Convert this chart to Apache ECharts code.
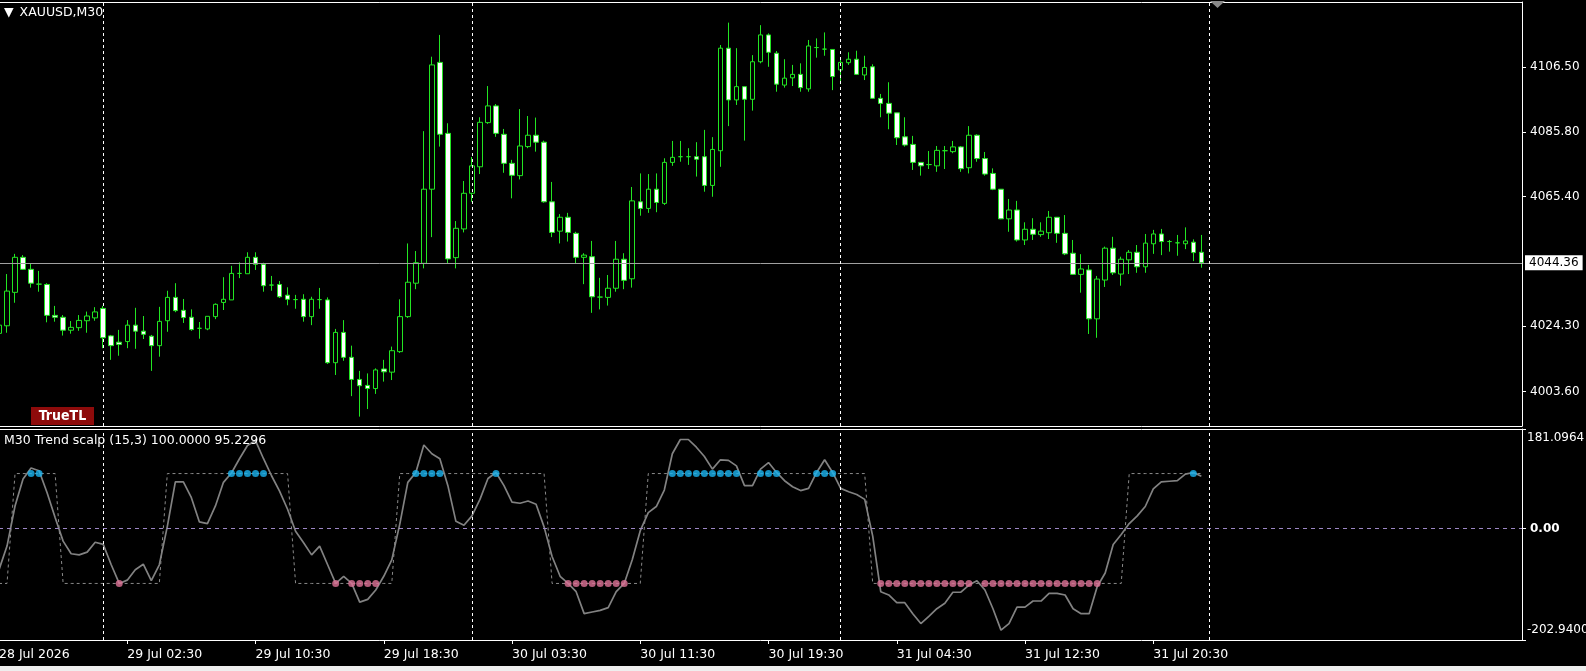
<!DOCTYPE html>
<html><head><meta charset="utf-8">
<script src="https://cdn.jsdelivr.net/npm/echarts@6/dist/echarts.min.js"></script>
<style>html,body{margin:0;padding:0;background:#000;}#c{width:1586px;height:671px;}</style>
</head><body><div id="c"></div>
<script>
// ---- price data (M30 candles, index 0..150) ----
const openP = [4022.0,4024.4,4035.0,4046.1,4042.3,4037.6,4037.5,4027.7,4027.1,4023.0,4023.8,4026.0,4026.9,4029.9,4021.2,4019.2,4019.4,4024.6,4022.7,4021.1,
4018.1,4026.0,4033.4,4029.3,4027.1,4023.6,4023.4,4027.3,4031.8,4032.6,4041.0,4040.9,4046.1,4043.9,4037.3,4037.5,4034.1,4032.7,4032.8,4027.3,
4032.7,4032.6,4012.7,4022.3,4014.4,4007.4,4005.5,4004.5,4010.7,4009.7,4016.2,4027.3,4037.9,4044.2,4067.7,4107.9,4085.4,4046.0,4055.1,4066.4,
4074.8,4088.8,4094.1,4085.1,4075.9,4072.0,4081.2,4084.8,4082.6,4063.7,4054.4,4058.8,4053.7,4046.1,4046.3,4033.5,4033.4,4036.3,4045.5,4039.3,
4063.7,4061.6,4067.7,4063.2,4076.2,4078.0,4078.0,4078.0,4078.0,4068.9,4079.9,4112.4,4096.0,4100.2,4096.2,4108.1,4116.6,4110.8,4100.7,4103.0,
4104.1,4099.5,4112.6,4112.1,4112.0,4105.5,4107.8,4108.9,4103.9,4106.5,4096.5,4094.9,4091.9,4084.3,4081.9,4076.2,4075.5,4075.1,4079.9,4079.6,
4081.1,4074.5,4084.8,4077.4,4072.7,4067.7,4058.3,4061.1,4051.6,4055.0,4053.3,4053.9,4058.8,4053.7,4047.4,4040.7,4042.1,4026.6,4038.9,4049.0,
4040.8,4045.3,4047.7,4043.1,4050.4,4053.5,4051.1,4050.7,4050.4,4050.9,4047.7];
const closeP = [4024.6,4035.4,4046.1,4042.3,4037.9,4037.6,4027.7,4027.1,4023.0,4023.9,4026.1,4027.5,4028.8,4020.6,4018.1,4018.5,4024.6,4022.7,4021.7,4018.1,
4025.8,4033.4,4029.2,4027.0,4023.2,4023.6,4027.4,4031.2,4032.8,4041.0,4041.0,4046.1,4043.9,4037.1,4037.3,4033.6,4032.8,4032.7,4027.3,4032.8,
4032.7,4012.7,4022.3,4014.4,4007.4,4005.4,4004.5,4010.4,4009.8,4016.5,4027.3,4038.2,4044.4,4067.7,4107.1,4085.1,4045.6,4055.3,4066.4,4075.1,
4088.9,4094.1,4085.4,4075.9,4072.1,4081.4,4084.8,4082.6,4063.7,4054.0,4058.8,4054.0,4046.1,4046.8,4033.6,4033.5,4036.3,4045.5,4038.8,4064.0,
4061.6,4067.7,4063.5,4076.2,4077.8,4078.0,4078.0,4077.2,4068.9,4080.3,4112.4,4096.0,4100.2,4096.2,4108.1,4116.6,4111.1,4101.0,4102.9,4104.1,
4099.9,4113.1,4112.6,4112.1,4103.4,4107.9,4108.9,4104.1,4106.3,4096.5,4094.9,4091.8,4084.0,4081.7,4076.2,4075.1,4075.5,4080.0,4079.9,4081.1,
4074.2,4084.8,4077.4,4072.5,4067.7,4058.3,4061.1,4051.6,4055.0,4053.4,4054.4,4058.8,4053.7,4047.2,4040.7,4042.4,4026.6,4039.2,4049.0,4041.2,
4045.5,4047.7,4043.1,4050.6,4053.5,4051.1,4051.1,4050.7,4051.3,4047.6,4044.36];
const lowP = [4018.8,4022.2,4031.7,4042.1,4036.5,4035.2,4025.5,4025.7,4021.3,4021.9,4022.8,4022.2,4026.0,4017.3,4013.6,4014.9,4017.3,4017.1,4020.2,4010.1,
4014.6,4022.5,4028.7,4025.3,4022.8,4020.3,4023.0,4026.5,4029.4,4032.6,4039.5,4040.9,4042.1,4035.2,4035.5,4033.2,4030.9,4029.8,4025.7,4024.6,
4029.8,4012.3,4008.8,4013.3,4002.1,3995.6,3998.0,4002.8,4006.7,4007.2,4015.8,4026.9,4036.0,4042.6,4052.5,4081.2,4044.2,4042.6,4054.0,4063.7,
4072.5,4088.4,4084.3,4072.9,4064.8,4070.8,4080.7,4079.6,4063.4,4052.5,4050.5,4051.1,4044.2,4037.6,4028.5,4029.6,4030.8,4035.2,4036.0,4036.5,
4059.3,4060.2,4060.4,4062.7,4075.1,4076.4,4075.4,4071.7,4066.9,4065.3,4074.8,4087.7,4094.4,4083.1,4092.6,4107.6,4106.5,4098.6,4099.9,4100.4,
4098.6,4098.6,4109.4,4110.0,4099.1,4101.0,4107.1,4103.9,4102.3,4096.3,4090.5,4086.7,4081.7,4081.2,4073.8,4072.0,4074.1,4073.2,4074.1,4079.1,
4073.2,4072.7,4076.4,4072.0,4067.4,4058.2,4054.2,4051.1,4050.0,4051.6,4052.6,4051.9,4050.7,4046.8,4040.5,4034.9,4021.8,4020.6,4036.7,4040.5,
4037.1,4040.8,4041.2,4041.2,4047.2,4046.8,4047.9,4046.6,4048.7,4044.9,4042.8];
const highP = [4029.4,4040.8,4047.2,4046.8,4044.0,4041.8,4037.9,4030.7,4027.8,4025.9,4027.8,4028.9,4030.3,4030.7,4021.5,4023.1,4026.2,4030.1,4027.5,4021.5,
4030.4,4035.5,4037.9,4032.9,4029.6,4025.6,4027.4,4031.5,4039.8,4043.4,4044.5,4047.7,4047.7,4044.4,4040.2,4038.6,4036.6,4034.2,4034.4,4033.6,
4036.4,4033.4,4023.4,4026.2,4018.1,4010.1,4009.3,4010.9,4013.6,4017.8,4032.8,4050.5,4048.1,4086.1,4109.7,4116.6,4088.6,4057.6,4070.3,4077.9,
4090.5,4100.4,4094.7,4086.8,4077.0,4093.1,4090.9,4090.4,4083.1,4070.0,4059.8,4060.2,4054.2,4047.4,4051.3,4039.6,4040.5,4051.3,4047.4,4068.4,
4072.7,4072.5,4072.7,4077.5,4083.0,4083.0,4080.7,4082.6,4086.5,4084.2,4113.4,4120.5,4112.4,4100.2,4110.2,4119.7,4117.1,4111.5,4108.9,4107.1,
4107.6,4115.0,4115.5,4117.4,4112.0,4108.9,4111.1,4111.6,4110.0,4107.3,4097.9,4101.6,4091.9,4090.5,4084.6,4076.2,4079.8,4081.4,4081.4,4083.0,
4081.4,4087.7,4085.1,4079.5,4074.3,4067.7,4064.6,4064.0,4057.2,4058.5,4057.2,4060.8,4058.8,4059.5,4051.6,4047.1,4043.7,4040.2,4049.5,4052.6,
4046.3,4048.4,4050.0,4053.5,4054.8,4055.1,4051.6,4053.2,4055.6,4051.8,4053.2];
const lastPrice = 4044.36;

// ---- indicator: M30 Trend scalp (15,3) ----
const trendMain = [-75,-32,41,90,110,105,65,20,-23,-46,-48,-43,-25,-29,-66,-100,-94,-75,-65,-95,
-66,4,85,85,56,12,9,41,84,101,127,151,160,127,96,68,35,-5,-26,-48,
-32,-66,-100,-87,-100,-134,-129,-112,-87,-57,8,84,102,152,136,127,78,13,6,23,
53,91,102,78,48,46,50,44,3,-51,-87,-100,-115,-155,-152,-149,-144,-115,-100,-57,
-4,29,40,70,136,162,162,148,131,108,125,124,114,78,78,108,120,102,87,76,
69,73,102,125,102,73,67,62,53,-14,-115,-121,-135,-135,-155,-173,-160,-146,-136,-116,
-116,-103,-95,-112,-146,-185,-173,-143,-143,-132,-132,-118,-118,-121,-146,-155,-155,-106,-81,-29,
-11,9,23,40,72,85,86,87,99,102,95.2296];
const trendState = [-100,-100,100,100,100,100,100,100,-100,-100,-100,-100,-100,-100,-100,-100,-100,-100,-100,-100,
-100,100,100,100,100,100,100,100,100,100,100,100,100,100,100,100,100,-100,-100,-100,
-100,-100,-100,-100,-100,-100,-100,-100,-100,-100,100,100,100,100,100,100,100,100,100,100,
100,100,100,100,100,100,100,100,100,-100,-100,-100,-100,-100,-100,-100,-100,-100,-100,-100,
-100,100,100,100,100,100,100,100,100,100,100,100,100,100,100,100,100,100,100,100,
100,100,100,100,100,100,100,100,100,-100,-100,-100,-100,-100,-100,-100,-100,-100,-100,-100,
-100,-100,-100,-100,-100,-100,-100,-100,-100,-100,-100,-100,-100,-100,-100,-100,-100,-100,-100,-100,
-100,100,100,100,100,100,100,100,100,100,100];
const buyDotIdx = [4,5,29,30,31,32,33,52,53,54,55,62,84,85,86,87,88,89,90,91,92,95,96,97,102,103,104,149];
const sellDotIdx = [15,42,44,45,46,47,71,72,73,74,75,76,77,78,110,111,112,113,114,115,116,117,118,119,120,121,
123,124,125,126,127,128,129,130,131,132,133,134,135,136,137];
const dotLevel = 100;

// ---- axes ----
const slotCount = 191;               // candle slots incl. empty right shift
const timeTickIdx = [0,16,32,48,64,80,96,112,128,144];
const timeTickLabels = ['28 Jul 2026','29 Jul 02:30','29 Jul 10:30','29 Jul 18:30','30 Jul 03:30','30 Jul 11:30','30 Jul 19:30','31 Jul 04:30','31 Jul 12:30','31 Jul 20:30'];
const gridLineIdx = [13,59,105,151];
const priceTicks = [4003.6,4024.3,4065.4,4085.8,4106.5];
const indTicks = [-202.94,0,181.0964];

const FONT = 'DejaVu Sans';
const GREEN = '#22e622';
const cats = [];
for (let i = 0; i < slotCount; i++) cats.push(i);
const tickSet = new Set(timeTickIdx);
const labelOf = {};
timeTickIdx.forEach((k, j) => { labelOf[k] = timeTickLabels[j]; });

const candles = openP.map((o, i) => [o, closeP[i], lowP[i], highP[i]]);
const vLines = gridLineIdx.map(k => ({ xAxis: k, lineStyle: { color: '#fff', type: [3, 3], width: 1 }, label: { show: false } }));

const frameAxis = (g, pos) => ({ type: 'category', gridIndex: g, data: cats, boundaryGap: false, position: pos,
  axisLine: { show: true, onZero: false, lineStyle: { color: '#fff', width: 1 } },
  axisTick: { show: false }, axisLabel: { show: false }, splitLine: { show: false } });

const chart = echarts.init(document.getElementById('c'), null, { renderer: 'canvas' });
chart.setOption({
  backgroundColor: '#000',
  animation: false,
  textStyle: { fontFamily: FONT },
  title: [
    { text: '{a|▼}{b|XAUUSD,M30}', left: 4, top: 6, padding: 0,
      textStyle: { color: '#fff', fontSize: 12.5, fontWeight: 'normal', fontFamily: FONT,
        rich: { a: { color: '#fff', fontSize: 12.5, fontFamily: FONT, padding: [0, 6, 0, 0] },
                b: { color: '#fff', fontSize: 12.5, fontFamily: FONT } } } },
    { text: 'M30 Trend scalp (15,3) 100.0000 95.2296', left: 4, top: 434, padding: 0, textStyle: { color: '#fff', fontSize: 12.5, fontWeight: 'normal', fontFamily: FONT } }
  ],
  grid: [
    { left: -1, right: 64, top: 2, height: 424, show: false, containLabel: false, outerBoundsMode: 'none' },
    { left: -1, right: 64, top: 429, height: 211, show: false, containLabel: false, outerBoundsMode: 'none' }
  ],
  xAxis: [
    frameAxis(0, 'bottom'),
    { type: 'category', gridIndex: 1, data: cats, boundaryGap: false, position: 'bottom',
      axisLine: { show: true, onZero: false, lineStyle: { color: '#fff', width: 1 } },
      axisTick: { show: true, interval: (i) => tickSet.has(i), length: 4, lineStyle: { color: '#fff' } },
      axisLabel: { show: true, interval: (i) => tickSet.has(i), formatter: (v, i) => labelOf[i] || '',
        align: 'left', color: '#fff', fontSize: 12.5, fontFamily: FONT, margin: 8 },
      splitLine: { show: false } },
    frameAxis(0, 'top'),
    frameAxis(1, 'top')
  ],
  yAxis: [
    { type: 'value', gridIndex: 0, position: 'right', min: 3992.63, max: 4127.04,
      splitLine: { show: false },
      axisLine: { show: true, lineStyle: { color: '#fff' } },
      axisTick: { show: true, customValues: priceTicks, length: 4, lineStyle: { color: '#fff' } },
      axisLabel: { customValues: priceTicks, formatter: v => v.toFixed(2), color: '#fff', fontSize: 12, fontFamily: FONT, margin: 8 } },
    { type: 'value', gridIndex: 1, position: 'right', min: indTicks[0], max: indTicks[2],
      splitLine: { show: false },
      axisLine: { show: true, lineStyle: { color: '#fff' } },
      axisTick: { show: true, customValues: indTicks, length: 4, lineStyle: { color: '#fff' } },
      axisLabel: { customValues: indTicks, color: '#fff', fontSize: 12, fontFamily: FONT, margin: 5,
        formatter: v => v > 0 ? '{t|' + v.toFixed(4) + '}' : (v < 0 ? '{b|' + v.toFixed(4) + '}' : '{z|' + v.toFixed(2) + '}'),
        rich: {
          t: { padding: [17, 0, 0, 0], color: '#fff', fontSize: 12, fontFamily: FONT },
          b: { padding: [0, 0, 21, 0], color: '#fff', fontSize: 12, fontFamily: FONT },
          z: { color: '#fff', fontSize: 12, fontFamily: FONT, fontWeight: 'bold', padding: [0, 0, 0, 3] }
        } } }
  ],
  series: [
    { type: 'candlestick', xAxisIndex: 0, yAxisIndex: 0, data: candles, barWidth: 5, clip: true,
      itemStyle: { color: '#000', color0: '#ffffff', borderColor: GREEN, borderColor0: GREEN, borderWidth: 1 },
      markLine: { silent: true, symbol: ['none', 'none'], animation: false,
        data: [
          { yAxis: lastPrice, lineStyle: { color: '#a0a0a0', type: 'solid', width: 1 },
            label: { show: true, position: 'end', formatter: lastPrice.toFixed(2), color: '#000', backgroundColor: '#fff',
              padding: [2, 4, 1, 4], fontSize: 12, fontFamily: FONT, distance: 3 } }
        ].concat(vLines) } },
    { type: 'line', xAxisIndex: 1, yAxisIndex: 1, data: trendState, showSymbol: false, symbol: 'none', z: 2,
      lineStyle: { color: '#8a8a8a', width: 1, type: [3, 3] } },
    { type: 'line', xAxisIndex: 1, yAxisIndex: 1, data: trendMain, showSymbol: false, symbol: 'none', z: 3,
      lineStyle: { color: '#828282', width: 1.7 },
      markLine: { silent: true, symbol: ['none', 'none'], animation: false,
        data: [ { yAxis: 0, lineStyle: { color: '#9c86c4', type: [4, 4], width: 1 }, label: { show: false } } ].concat(vLines) } },
    { type: 'scatter', xAxisIndex: 1, yAxisIndex: 1, z: 5, symbolSize: 7,
      data: buyDotIdx.map(k => [k, dotLevel]), itemStyle: { color: '#1ab4f0' } },
    { type: 'scatter', xAxisIndex: 1, yAxisIndex: 1, z: 5, symbolSize: 7,
      data: sellDotIdx.map(k => [k, -dotLevel]), itemStyle: { color: '#de7397' } }
  ],
  graphic: [
    { type: 'rect', shape: { x: 31, y: 407, width: 63, height: 18 }, style: { fill: '#8e0b0b' }, z: 10 },
    { type: 'text', x: 62.5, y: 416.5, z: 11, style: { text: 'TrueTL', fill: '#fff', align: 'center', verticalAlign: 'middle',
        font: 'bold 14px "DejaVu Sans Condensed", "DejaVu Sans"' } },
    { type: 'polygon', shape: { points: [[1210, 1], [1225, 1], [1217.5, 8]] }, style: { fill: '#8a8a8a' }, z: 10 },
    { type: 'rect', shape: { x: 0, y: 666, width: 1586, height: 5 }, style: { fill: '#eeeeee' }, z: 10 }
  ]
});
</script></body></html>
